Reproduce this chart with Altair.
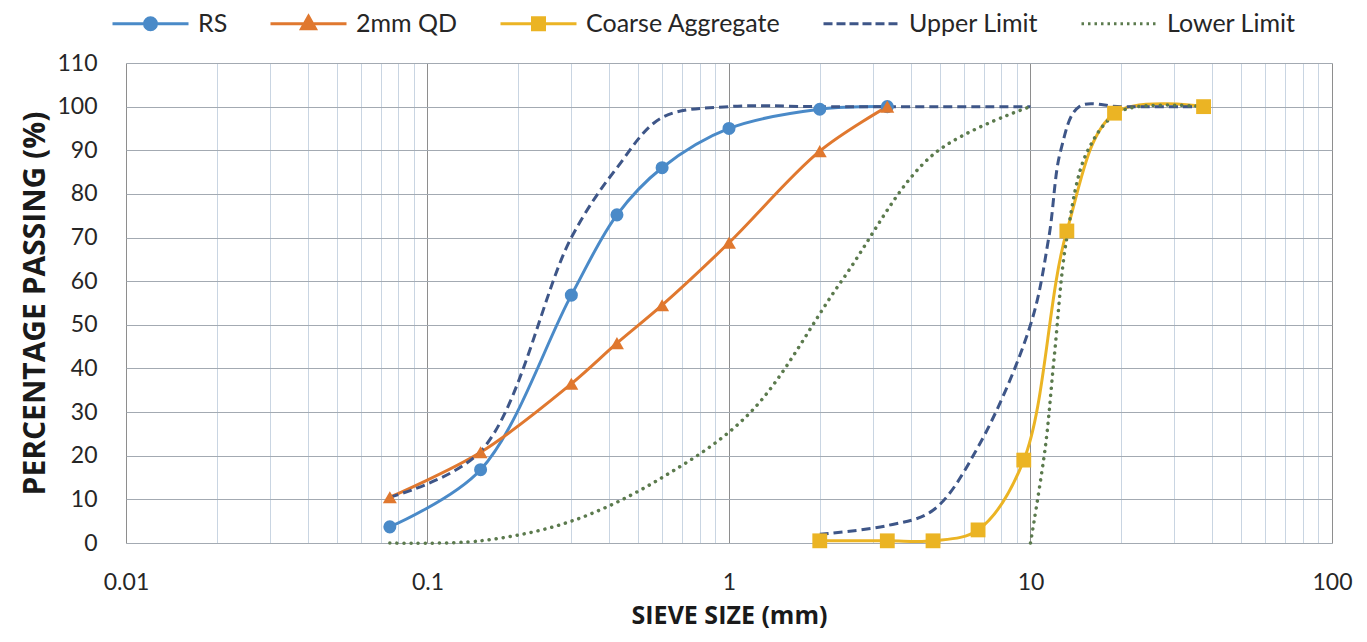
import altair as alt
import pandas as pd

# ---- data ----
series_names = ["RS", "2mm QD", "Coarse Aggregate", "Upper Limit", "Lower Limit"]
series_colors = ["#4a8ac8", "#e0782f", "#ebb424", "#3e5688", "#5b7a4d"]

rs_size = [0.075, 0.15, 0.3, 0.425, 0.6, 1.0, 2.0, 3.35]
rs_pass = [3.7, 16.8, 56.8, 75.2, 86.0, 95.0, 99.4, 100.0]

qd_size = [0.075, 0.15, 0.3, 0.425, 0.6, 1.0, 2.0, 3.35]
qd_pass = [10.5, 20.8, 36.5, 45.8, 54.5, 68.8, 89.8, 100.0]

ca_size = [2.0, 3.35, 4.75, 6.7, 9.5, 13.2, 19.0, 37.5]
ca_pass = [0.5, 0.5, 0.5, 3.0, 19.0, 71.5, 98.5, 100.0]

upper_fine_size = [0.075, 0.15, 0.3, 0.425, 0.6, 1.0, 2.0, 10.0]
upper_fine_pass = [10.5, 21.0, 70.0, 86.0, 97.5, 100.0, 100.0, 100.0]
upper_coarse_size = [2.0, 3.35, 4.75, 6.7, 10.0, 11.5, 12.6, 14.5, 20.0, 37.5]
upper_coarse_pass = [2.0, 4.0, 7.5, 22.0, 50.0, 70.0, 90.0, 100.0, 100.0, 100.0]

lower_fine_size = [0.075, 0.15, 0.3, 0.6, 1.18, 2.36, 4.75, 10.0]
lower_fine_pass = [0.0, 0.5, 5.0, 15.0, 30.0, 60.0, 89.0, 100.0]
lower_coarse_size = [10.0, 11.2, 12.0, 13.2, 15.5, 20.0, 37.5]
lower_coarse_pass = [0.0, 22.0, 43.0, 70.0, 90.0, 99.0, 100.0]

x_major = [0.01, 0.1, 1, 10, 100]
x_minor = [m * d for d in [0.01, 0.1, 1, 10] for m in range(2, 10)]
y_ticks = list(range(0, 111, 10))


# ---- legend glyphs (unit box -1..1; 1 unit = 38 px at the chosen symbol size) ----
def dashed_stub(on_px, off_px, unit_px=38.0):
    parts, pos, end = [], -unit_px, unit_px
    while pos < end:
        stop = min(pos + on_px, end)
        parts.append("M%.3f,0H%.3f" % (pos / unit_px, stop / unit_px))
        pos += on_px + off_px
    return "".join(parts)


legend_shapes = [
    "M-1,0H1"
    "M0.158,0A0.158,0.158 0 1,1 -0.158,0A0.158,0.158 0 1,1 0.158,0Z"
    "M0.079,0A0.079,0.079 0 1,1 -0.079,0A0.079,0.079 0 1,1 0.079,0Z"
    "M0.014,0A0.014,0.014 0 1,1 -0.014,0A0.014,0.014 0 1,1 0.014,0Z",
    "M-1,0H1"
    "M0,-0.197L0.184,0.132L-0.184,0.132Z"
    "M0,-0.088L0.092,0.077L-0.092,0.077Z"
    "M0,-0.011L0.028,0.039L-0.028,0.039Z",
    "M-1,0H1"
    "M-0.158,-0.158H0.158V0.158H-0.158Z"
    "M-0.079,-0.079H0.079V0.079H-0.079Z"
    "M-0.016,-0.016H0.016V0.016H-0.016Z",
    dashed_stub(9, 4),
    dashed_stub(2.5, 4),
]


def rows(name, seg, xs, ys):
    return [{"series": name, "seg": seg, "size": a, "pct": b} for a, b in zip(xs, ys)]


data = pd.DataFrame(
    rows("RS", "a", rs_size, rs_pass)
    + rows("2mm QD", "a", qd_size, qd_pass)
    + rows("Coarse Aggregate", "a", ca_size, ca_pass)
    + rows("Upper Limit", "fine", upper_fine_size, upper_fine_pass)
    + rows("Upper Limit", "coarse", upper_coarse_size, upper_coarse_pass)
    + rows("Lower Limit", "fine", lower_fine_size, lower_fine_pass)
    + rows("Lower Limit", "coarse", lower_coarse_size, lower_coarse_pass)
)

LABEL_FONT = "Lato"
TITLE_FONT = "Open Sans"

legend = alt.Legend(
    orient="none", legendX=-15, legendY=-79, direction="horizontal", columns=5,
    title=None, symbolSize=5776, symbolStrokeWidth=3, symbolOpacity=1,
    labelFont=LABEL_FONT, labelFontSize=25, labelColor="#262626", labelLimit=400,
    labelOffset=8, columnPadding=36,
)

color = alt.Color("series:N", scale=alt.Scale(domain=series_names, range=series_colors),
                  legend=None)

xscale = alt.Scale(type="log", domain=[0.01, 100], nice=False)
yaxis = alt.Axis(values=y_ticks, grid=True, gridColor="#a3aab2", gridWidth=1.2,
                 domain=False, ticks=False, labelFont=LABEL_FONT, labelFontSize=23,
                 labelColor="#262626", labelPadding=29,
                 title="PERCENTAGE PASSING (%)", titleFont=TITLE_FONT, titleFontSize=30,
                 titleFontWeight="bold", titleColor="#1a1a1a", titlePadding=6)
y = alt.Y("pct:Q", scale=alt.Scale(domain=[0, 110], nice=False), axis=yaxis)

minor_axis = alt.Axis(orient="bottom", values=x_minor, grid=True, gridColor="#c9d5e2",
                      gridWidth=1, labels=False, ticks=False, domain=False, title=None)
major_axis = alt.Axis(orient="bottom", values=x_major, grid=True, gridColor="#8e8e8e",
                      gridWidth=1, format="~g", ticks=False, domain=False,
                      labelFont=LABEL_FONT, labelFontSize=23, labelColor="#262626",
                      labelPadding=28, labelFlush=False,
                      title="SIEVE SIZE (mm)", titleFont=TITLE_FONT, titleFontSize=25,
                      titleFontWeight="bold", titleColor="#1a1a1a", titlePadding=9)

base = alt.Chart(data)
marker_series = ["RS", "2mm QD", "Coarse Aggregate"]

solid = base.transform_filter(
    alt.FieldOneOfPredicate(field="series", oneOf=marker_series)
).mark_line(interpolate="catmull-rom", strokeWidth=3).encode(
    x=alt.X("size:Q", scale=xscale, axis=minor_axis), y=y, color=color, detail="seg:N")

upper = base.transform_filter(alt.datum.series == "Upper Limit").mark_line(
    interpolate="catmull-rom", strokeWidth=3, strokeDash=[9, 5]
).encode(x=alt.X("size:Q", scale=xscale, axis=major_axis), y=y, color=color, detail="seg:N")

lower = base.transform_filter(alt.datum.series == "Lower Limit").mark_line(
    interpolate="catmull-rom", strokeWidth=3.5, strokeDash=[0.1, 7], strokeCap="round"
).encode(x=alt.X("size:Q", scale=xscale, axis=None), y=y, color=color, detail="seg:N")

points = base.transform_filter(
    alt.FieldOneOfPredicate(field="series", oneOf=marker_series)
).mark_point(filled=True, opacity=1).encode(
    x=alt.X("size:Q", scale=xscale, axis=None), y=y, color=color,
    shape=alt.Shape("series:N", scale=alt.Scale(
        domain=marker_series, range=["circle", "triangle-up", "square"]), legend=None),
    size=alt.Size("series:N", scale=alt.Scale(
        domain=marker_series, range=[170, 220, 230]), legend=None),
)

# legend-only layer (no rows drawn): the legend comes from the series scales
legend_layer = base.transform_filter("false").mark_point(filled=False, strokeWidth=3).encode(
    x=alt.X("size:Q", scale=xscale, axis=None), y=y,
    color=alt.Color("series:N", scale=alt.Scale(domain=series_names, range=series_colors),
                    legend=legend),
    shape=alt.Shape("series:N", scale=alt.Scale(domain=series_names, range=legend_shapes),
                    legend=legend),
)

chart = alt.layer(solid, upper, lower, points, legend_layer).resolve_axis(
    x="independent").resolve_scale(shape="independent", color="independent").properties(
    width=1206, height=480,
    autosize=alt.AutoSizeParams(type="none"),
    padding={"left": 118, "top": 55, "right": 27, "bottom": 91},
).configure_view(stroke="#9a9a9a", strokeWidth=1.2).configure(background="white")

chart.save("out.html", embed_options={"renderer": "svg", "actions": False})
